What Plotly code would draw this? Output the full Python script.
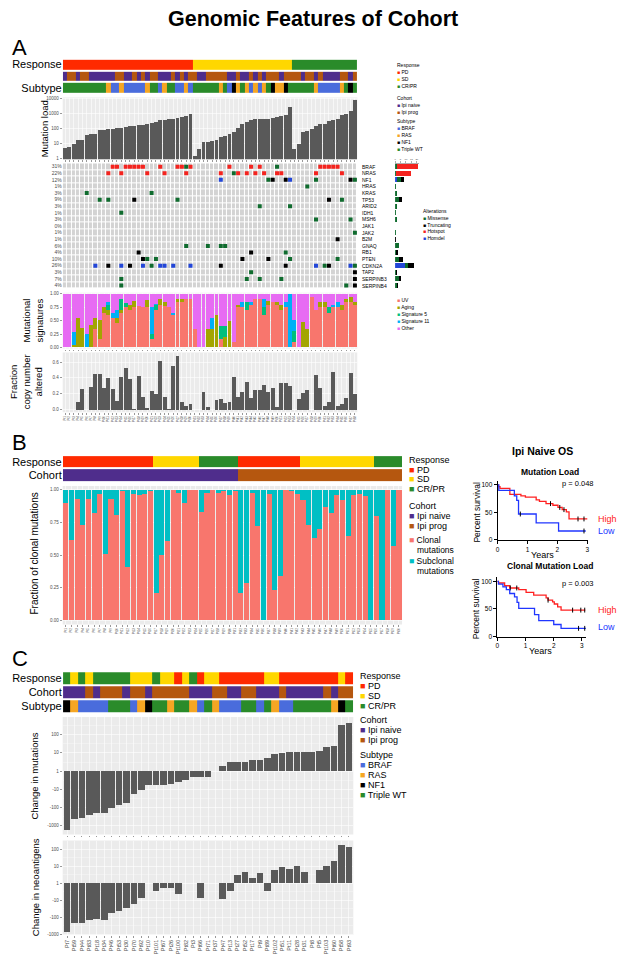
import plotly.graph_objects as go
import math

W, H = 624, 967
FONT = "Liberation Sans, Arial, Helvetica, sans-serif"
GREY_BG = "#EBEBEB"
BAR_GREY = "#595959"
TICK_GREY = "#4D4D4D"

# ---------------------------------------------------------------- colours
CAT_COLORS = {
    "PD": "#FF2A00", "SD": "#FFD700", "CR/PR": "#2A8B2A",
    "Ipi naive": "#4F2D8C", "Ipi prog": "#B5570F",
    "BRAF": "#4A6CDC", "RAS": "#F5A623", "NF1": "#000000", "Triple WT": "#2A8B2A",
}
ALT_COLORS = {"Missense": "#0F6B2E", "Truncating": "#000000", "Hotspot": "#F4231E", "Homdel": "#2246D8"}
SIG_COLORS = {"UV": "#F8766D", "Aging": "#A3A500", "Signature 5": "#00BF7D",
              "Signature 11": "#00B0F6", "Other": "#E76BF3"}

# ================================================================ DATA
# ---------- Panel A (68 tumours)
resp_A_runs = [("PD", 30), ("SD", 23), ("CR/PR", 15)]
cohort_A_runs = [("Ipi naive", 1), ("Ipi prog", 2), ("Ipi naive", 1), ("Ipi prog", 2), ("Ipi naive", 6),
                 ("Ipi prog", 2), ("Ipi naive", 2), ("Ipi prog", 1), ("Ipi naive", 1), ("Ipi prog", 1),
                 ("Ipi naive", 1), ("Ipi prog", 2), ("Ipi naive", 3), ("Ipi prog", 1), ("Ipi naive", 1),
                 ("Ipi prog", 1), ("Ipi naive", 1), ("Ipi prog", 2), ("Ipi naive", 2), ("Ipi prog", 5),
                 ("Ipi naive", 2), ("Ipi prog", 1), ("Ipi naive", 2), ("Ipi prog", 1), ("Ipi naive", 1),
                 ("Ipi prog", 1), ("Ipi naive", 1), ("Ipi prog", 3), ("Ipi naive", 1), ("Ipi prog", 4),
                 ("Ipi naive", 1), ("Ipi prog", 2), ("Ipi naive", 1), ("Ipi prog", 1), ("Ipi naive", 4),
                 ("Ipi prog", 2), ("Ipi naive", 1), ("Ipi prog", 1)]
subtype_A_runs = [("Triple WT", 10), ("RAS", 1), ("BRAF", 2), ("RAS", 1), ("BRAF", 5), ("RAS", 1),
                  ("Triple WT", 2), ("BRAF", 1), ("RAS", 1), ("Triple WT", 2), ("BRAF", 2), ("RAS", 1),
                  ("BRAF", 1), ("Triple WT", 6), ("RAS", 1), ("Triple WT", 1), ("BRAF", 1), ("NF1", 1),
                  ("RAS", 1), ("Triple WT", 1), ("RAS", 1), ("BRAF", 1), ("RAS", 1), ("BRAF", 1),
                  ("RAS", 1), ("Triple WT", 1), ("NF1", 1), ("RAS", 2), ("NF1", 1), ("Triple WT", 6),
                  ("RAS", 1), ("BRAF", 5), ("RAS", 1), ("Triple WT", 1), ("NF1", 1), ("Triple WT", 1)]
mut_load_A = [5, 6, 9, 17, 18, 38, 40, 45, 80, 85, 90, 95, 100, 115, 135, 150, 155, 160, 170, 200,
              220, 280, 350, 380, 400, 430, 520, 620, 720, 950,
              1.5, 4.5, 12, 13, 15, 16, 25, 30, 40, 60, 110, 200, 280, 350, 400, 420, 430, 450, 500,
              600, 650, 800, 2600,
              4.5, 9, 60, 70, 90, 150, 190, 200, 330, 360, 400, 800, 950, 1500, 8000]
genes_A = ["BRAF", "NRAS", "NF1", "HRAS", "KRAS", "TP53", "ARID2", "IDH1", "MSH6", "JAK1", "JAK2",
           "B2M", "GNAQ", "RB1", "PTEN", "CDKN2A", "TAP2", "SERPINB3", "SERPINB4"]
gene_pct_A = ["31%", "22%", "12%", "1%", "3%", "9%", "3%", "1%", "3%", "0%", "1%", "1%", "6%", "4%",
              "10%", "26%", "3%", "7%", "4%"]
hotspot_A = {"BRAF": [11, 12, 14, 15, 16, 17, 18, 22, 26, 27, 29, 38, 43, 45, 59, 60, 61, 62, 63],
             "NRAS": [10, 13, 19, 23, 28, 36, 40, 42, 44, 46, 49, 50, 58, 64]}
missense_A = {"BRAF": [28, 49], "NRAS": [39], "NF1": [47, 58, 67], "HRAS": [56], "KRAS": [5, 20],
              "TP53": [8, 10, 26, 64], "ARID2": [45, 52], "IDH1": [13], "MSH6": [58, 66], "JAK2": [67],
              "GNAQ": [28, 33, 36, 37], "RB1": [51], "PTEN": [19, 21, 52, 63], "CDKN2A": [20, 60, 67],
              "TAP2": [43], "SERPINB3": [13, 42, 45, 50], "SERPINB4": [13, 65]}
truncating_A = {"NF1": [48, 51, 66], "TP53": [16, 61], "B2M": [63], "RB1": [17, 43],
                "PTEN": [18, 41, 47], "CDKN2A": [10, 15, 36, 51, 61], "TAP2": [67],
                "SERPINB3": [67], "SERPINB4": [67]}
homdel_A = {"NF1": [36, 52], "CDKN2A": [7, 13, 18, 22, 23, 25, 29, 58, 66]}
sig_uv_A = [0, 0, 0, 0, 0, 0, 0, .35, .15, .65, .6, .55, .45, .65, .75, .7, .75, .77, .75, .75,
            .15, .7, .8, .78, .75, .6, .85, .85, .9, .9, .35, 0, 0, 0, 0, 0, .15, 0, 0, .1,
            .75, .75, .7, .8, .9, .9, .6, .8, .85, .8, .7, .75, 0, .1, 0, 0, 0, .95, .7, .75,
            .75, .65, .75, .75, .7, .85, .85, .8]
sig_aging_A = [0, 0, .05, .55, .36, 0, .42, .2, .37, .1, .1, 0, .1, .05, 0, .1, .12, 0, 0, .13,
               0, 0, .1, .07, 0, 0, .05, .05, 0, 0, 0, 0, 0, .35, .35, .6, 0, .2, .5, 0,
               .05, 0, 0, 0, 0, 0, 0, .07, 0, .05, .1, 0, 0, 0, 0, .48, .35, 0, 0, .1,
               .1, 0, 0, 0, .1, .05, .1, .05]
sig_5_A = [0, 0, 0, 0, 0, 0, 0, 0, 0, 0, .1, 0, 0, .2, .08, 0, 0, 0, 0, 0,
           .1, .1, 0, 0, 0, 0, 0, 0, 0, 0, 0, 0, 0, 0, 0, 0, .25, .2, 0, 0,
           0, 0, .15, 0, 0, 0, .15, 0, 0, 0, 0, 0, 0, .2, 0, 0, 0, 0, 0, 0,
           0, .1, 0, 0, 0, 0, 0, 0]
sig_11_A = [0, 0, .24, 0, 0, .25, 0, 0, 0, 0, .05, .1, .15, 0, 0, 0, 0, 0, 0, 0,
            .5, .02, 0, 0, 0, .05, 0, 0, 0, 0, 0, 0, 0, 0, .2, 0, 0, 0, 0, 0,
            0, .1, 0, .05, 0, 0, .15, 0, 0, 0, 0, .1, 1.0, .22, 0, 0, 0, 0, 0, 0,
            0, 0, .05, .1, 0, 0, 0, 0]
cna_A = [None, None, None, .10, .26, None, .29, .45, .45, .27, .40, .26, .11, .41, .53, .38, .01, .42,
         .16, .02, .24, .20, .61, .16, .003, .55, .68, .09, .05, .07, None, None, .22, .03, None, .12,
         .13, .08, .10, .41, .16, .22, .35, .15, .25, .25, .31, .22, .27, .03, .33, .34, .30, None,
         .13, .21, .25, None, .43, .27, .04, .09, .48, .04, .07, .14, .46, .19]
samples_A = ["Pt%d" % (i + 1) for i in range(68)]

# ---------- Panel B (60 tumours)
resp_B_runs = [("PD", 16), ("SD", 8), ("CR/PR", 7), ("PD", 11), ("SD", 13), ("CR/PR", 5)]
cohort_B_runs = [("Ipi naive", 31), ("Ipi prog", 29)]
clonal_B = [.90, .62, .93, .73, .93, .82, .97, .51, .93, .81, .99, .41, .97, .96, .97, .99, .21, .50,
            .61, 1.0, .98, .90, 1.0, 1.0, .83, .98, 1.0, .98, .99, .96, .99,
            .21, .29, .98, .72, 0.0, .97, .23, .34, 1.0, .99, .97, .92, .73, .63, .70, .87, .82, .96,
            .92, .65, .96, .97, .95, 0.0, .80, 0.0, 1.0, .57, 1.0]
samples_B = ["Pt%d" % (i + 1) for i in range(60)]

# ---------- KM curves (Ipi naive OS)
km_ml_high_t = [0, 0.03, 0.08, 0.41, 0.78, 0.93, 1.29, 1.40, 1.62, 1.85, 2.02, 2.16, 2.30, 2.39, 3.0]
km_ml_high_s = [100, 97, 94, 83, 80, 78, 73, 70, 66, 63, 59, 55, 51, 38, 38]
km_ml_high_cens = [1.77, 2.08, 2.22, 2.69, 2.89]
km_ml_low_t = [0, 0.04, 0.56, 0.64, 0.70, 1.29, 2.04, 2.95]
km_ml_low_s = [100, 90, 80, 72, 47, 31, 16, 16]
km_ml_low_cens = [0.76, 2.89]
km_cl_high_t = [0, 0.04, 0.26, 0.44, 0.76, 1.02, 1.29, 1.73, 1.80, 1.96, 2.02, 2.14, 2.26, 3.12]
km_cl_high_s = [100, 97, 92, 88, 85, 80, 75, 70, 66, 63, 59, 54, 48, 48]
km_cl_high_cens = [0.46, 0.69, 1.80, 2.67, 2.96, 3.10]
km_cl_low_t = [0, 0.04, 0.20, 0.32, 0.44, 0.61, 0.70, 0.76, 1.32, 1.47, 2.00, 2.26, 3.16]
km_cl_low_s = [100, 95, 90, 85, 78, 72, 62, 51, 40, 29, 22, 15, 15]
km_cl_low_cens = [2.88, 3.10]

# ---------- Panel C (39 paired tumours)
resp_C_runs = [("CR/PR", 1), ("SD", 1), ("CR/PR", 1), ("SD", 1), ("CR/PR", 5), ("SD", 3), ("CR/PR", 1),
               ("SD", 2), ("PD", 1), ("SD", 1), ("CR/PR", 1), ("PD", 1), ("SD", 2), ("PD", 6), ("SD", 2),
               ("PD", 8), ("SD", 1), ("PD", 1)]
cohort_C_runs = [("Ipi naive", 3), ("Ipi prog", 1), ("Ipi naive", 1), ("Ipi prog", 3), ("Ipi naive", 1),
                 ("Ipi prog", 2), ("Ipi naive", 1), ("Ipi prog", 5), ("Ipi naive", 3), ("Ipi prog", 2),
                 ("Ipi naive", 2), ("Ipi prog", 2), ("Ipi naive", 3), ("Ipi prog", 1), ("Ipi naive", 5),
                 ("Ipi prog", 1), ("Ipi naive", 1), ("Ipi prog", 2)]
subtype_C_runs = [("NF1", 1), ("RAS", 1), ("BRAF", 4), ("Triple WT", 3), ("BRAF", 1), ("RAS", 1), ("NF1", 1),
                  ("Triple WT", 2), ("RAS", 1), ("Triple WT", 2), ("RAS", 1), ("BRAF", 1), ("Triple WT", 1),
                  ("RAS", 1), ("BRAF", 3), ("Triple WT", 2), ("BRAF", 1), ("Triple WT", 1), ("RAS", 1),
                  ("BRAF", 2), ("Triple WT", 5), ("RAS", 1), ("NF1", 1), ("Triple WT", 1)]
patients_C = ["Pt7", "Pt59", "Pt44", "Pt83", "Pt18", "Pt34", "Pt46", "Pt53", "Pt30", "Pt70", "Pt92",
              "Pt10", "Pt101", "Pt67", "Pt26", "Pt100", "Pt82", "Pt3", "Pt66", "Pt71", "Pt37", "Pt47",
              "Pt13", "Pt27", "Pt52", "Pt17", "Pt9", "Pt89", "Pt102", "Pt51", "Pt11", "Pt28", "Pt31",
              "Pt8", "Pt5", "Pt103", "Pt60", "Pt58", "Pt93"]
mut_change_C = [-1650, -430, -380, -250, -210, -200, -100, -75, -58, -19, -11, -6, -6, -6, -5, -4, -3,
                -2, -2, -2, 0, 2, 3, 3, 3, 4, 4, 5, 9, 10, 11, 11, 11, 11, 12, 22, 25, 350, 435]
neo_change_C = [-730, -215, -236, -150, -131, -138, -56, -43, -28, -16, -7, 0, -3, -2, -2, -4, 0, 0,
                -7, 0, 0, -9, -3, 3, 5, 2, 4, -3, 6, 9, 7, 10, 5, 0, 6, 10, 20, 196, 150]
symlog_ticks = [-1000, -100, -10, 1, 10, 100]


# ================================================================ helpers
def expand(runs):
    out = []
    for v, n in runs:
        out += [v] * n
    return out


def slog(v):
    if v == 0:
        return 0
    return math.copysign(math.log10(abs(v)), v)


fig = go.Figure()
_ax = [0]


def new_axes(x0, x1, y0, y1, xa=None, ya=None):
    _ax[0] += 1
    s = "" if _ax[0] == 1 else str(_ax[0])
    xa = dict(xa or {})
    ya = dict(ya or {})
    xa.update(domain=[x0 / W, x1 / W], anchor="y" + s)
    ya.update(domain=[1 - y1 / H, 1 - y0 / H], anchor="x" + s)
    fig.update_layout(**{"xaxis" + s: xa, "yaxis" + s: ya})
    return "x" + s, "y" + s


def grey_panel(xr, yr):
    fig.add_shape(type="rect", xref=xr + " domain", yref=yr + " domain", x0=0, x1=1, y0=0, y1=1,
                  fillcolor=GREY_BG, line_width=0, layer="below")


def text(x, y, s, size, color="black", xanchor="center", yanchor="middle", angle=0, bold=False,
         align="center"):
    if bold:
        s = "<b>" + s + "</b>"
    fig.add_annotation(x=x / W, y=1 - y / H, xref="paper", yref="paper", text=s, showarrow=False,
                       textangle=angle, xanchor=xanchor, yanchor=yanchor, align=align,
                       font=dict(family=FONT, size=size, color=color))


def legend_block(x, y0, title, items, size, step, colors, title_gap=None):
    if title:
        text(x, y0, title, size, xanchor="left")
    y = y0 + (title_gap if title_gap else step)
    for it in items:
        text(x, y, '<span style="color:%s">\u25A0</span> %s' % (colors[it], it), size, xanchor="left")
        y += step


cat_keys = list(CAT_COLORS)


def cat_colorscale():
    n = len(cat_keys)
    cs = []
    for i, k in enumerate(cat_keys):
        cs.append([i / n, CAT_COLORS[k]])
        cs.append([(i + 1) / n, CAT_COLORS[k]])
    return cs


def gg_axis(**kw):
    d = dict(showgrid=True, gridcolor="white", gridwidth=0.6, zeroline=False, showline=False,
             ticks="outside", ticklen=2, tickcolor="#333333", tickwidth=0.5,
             tickfont=dict(family=FONT, size=4.5, color=TICK_GREY))
    d.update(kw)
    return d


def track(x0, x1, y0, y1, rows, names, n, label_size):
    xr, yr = new_axes(x0, x1, y0, y1,
                      dict(range=[-0.55, n - 0.45], visible=False, fixedrange=True),
                      dict(type="category", ticks="", showgrid=False, zeroline=False,
                           tickfont=dict(family=FONT, size=label_size, color="black")))
    z = [[cat_keys.index(v) for v in row] for row in rows]
    fig.add_trace(go.Heatmap(z=z, x=list(range(n)), y=names, colorscale=cat_colorscale(),
                             zmin=-0.5, zmax=len(cat_keys) - 0.5, showscale=False, xgap=0, ygap=2,
                             hoverinfo="skip", xaxis=xr, yaxis=yr))


# ================================================================ TITLE + letters
text(312, 18, "Genomic Features of Cohort", 21.5, bold=True)
text(8, 47, "A", 22, xanchor="left")
text(8, 443, "B", 22, xanchor="left")
text(8, 660, "C", 22, xanchor="left")

# ================================================================ PANEL A
nA = len(mut_load_A)
XA0, XA1 = 61, 357
resp_A = expand(resp_A_runs)
cohort_A = expand(cohort_A_runs)
subtype_A = expand(subtype_A_runs)
track(XA0, XA1, 58, 93, [subtype_A, cohort_A, resp_A], ["Subtype", "Cohort", "Response"], nA, 11)

# mutation load
xr, yr = new_axes(XA0, XA1, 97, 159,
                  gg_axis(range=[-0.55, nA - 0.45], dtick=1, tick0=0, showticklabels=False, ticklen=1.5),
                  gg_axis(type="log", range=[-0.07, 4.07], tickvals=[1, 10, 100, 1000, 10000],
                          ticktext=["1", "10", "100", "1000", "10000"], minor=dict(showgrid=False)))
grey_panel(xr, yr)
fig.add_trace(go.Bar(x=list(range(nA)), y=mut_load_A, marker_color=BAR_GREY, marker_line_width=0,
                     showlegend=False, hoverinfo="skip", xaxis=xr, yaxis=yr))
text(43, 128, "Mutation load", 9.5, angle=-90)

# oncoprint
nG = len(genes_A)
xr, yr = new_axes(XA0, XA1, 163, 289,
                  dict(range=[-0.55, nA - 0.45], visible=False),
                  dict(range=[nG - 0.5, -0.5], tickvals=list(range(nG)), ticktext=gene_pct_A, ticks="",
                       showgrid=False, zeroline=False,
                       tickfont=dict(family=FONT, size=5, color=TICK_GREY)))
fig.add_trace(go.Heatmap(z=[[0] * nA for _ in genes_A], x=list(range(nA)), y=list(range(nG)),
                         colorscale=[[0, "#D3D3D3"], [1, "#D3D3D3"]], showscale=False, xgap=1, ygap=1,
                         hoverinfo="skip", xaxis=xr, yaxis=yr))
for name, hits in [("Homdel", homdel_A), ("Missense", missense_A), ("Truncating", truncating_A),
                   ("Hotspot", hotspot_A)]:
    xs, ys = [], []
    for g, cols in hits.items():
        for c in cols:
            xs.append(c)
            ys.append(genes_A.index(g))
    fig.add_trace(go.Scatter(x=xs, y=ys, mode="markers",
                             marker=dict(symbol="square", size=4, color=ALT_COLORS[name], line_width=0),
                             showlegend=False, hoverinfo="skip", xaxis=xr, yaxis=yr))
for i, g in enumerate(genes_A):
    fig.add_annotation(x=1.008, y=i, xref=xr + " domain", yref=yr, text=g, showarrow=False,
                       xanchor="left", font=dict(family=FONT, size=5, color="black"))

# alteration counts bar chart
xr2, yr2 = new_axes(395, 419, 163, 289,
                    dict(range=[0, 22], side="top", tickvals=[0, 5, 10, 15, 20], ticks="outside",
                         ticklen=1.5, tickwidth=0.4, tickcolor="#333", showgrid=False, zeroline=False,
                         showline=True, linewidth=0.4, linecolor="#333",
                         tickfont=dict(family=FONT, size=2.5, color=TICK_GREY)),
                    dict(range=[nG - 0.5, -0.5], visible=False))
for name, hits in [("Homdel", homdel_A), ("Missense", missense_A), ("Truncating", truncating_A),
                   ("Hotspot", hotspot_A)]:
    fig.add_trace(go.Bar(y=list(range(nG)), x=[len(hits.get(g, [])) for g in genes_A], orientation="h",
                         width=0.75, marker_color=ALT_COLORS[name], marker_line_width=0,
                         showlegend=False, hoverinfo="skip", xaxis=xr2, yaxis=yr2))

# signatures
xr, yr = new_axes(XA0, XA1, 293, 349,
                  gg_axis(range=[-0.55, nA - 0.45], dtick=1, tick0=0, showticklabels=False, ticklen=1.5),
                  gg_axis(range=[-0.02, 1.02], tickvals=[0, .25, .5, .75, 1],
                          ticktext=["0.00", "0.25", "0.50", "0.75", "1.00"]))
grey_panel(xr, yr)
sig_other_A = [max(0.0, 1 - a - b - c - d) for a, b, c, d in zip(sig_uv_A, sig_aging_A, sig_5_A, sig_11_A)]
for name, vals in [("UV", sig_uv_A), ("Aging", sig_aging_A), ("Signature 5", sig_5_A),
                   ("Signature 11", sig_11_A), ("Other", sig_other_A)]:
    fig.add_trace(go.Bar(x=list(range(nA)), y=vals, marker_color=SIG_COLORS[name], marker_line_width=0,
                         showlegend=False, hoverinfo="skip", xaxis=xr, yaxis=yr))
text(31, 321, "Mutational<br>signatures", 9.5, angle=-90)

# CNA
xr, yr = new_axes(XA0, XA1, 353, 413,
                  gg_axis(range=[-0.55, nA - 0.45], tickvals=list(range(nA)), ticktext=samples_A,
                          tickangle=-90, ticklen=1.5, tickfont=dict(family=FONT, size=3, color=TICK_GREY)),
                  gg_axis(range=[-0.035, 0.72], tickvals=[0, .2, .4, .6],
                          ticktext=["0.0", "0.2", "0.4", "0.6"]))
grey_panel(xr, yr)
fig.add_trace(go.Bar(x=list(range(nA)), y=cna_A, marker_color=BAR_GREY, marker_line_width=0,
                     showlegend=False, hoverinfo="skip", xaxis=xr, yaxis=yr))
text(25, 382, "Fraction<br>copy number<br>altered", 9.5, angle=-90)

# legends panel A
legend_block(395, 64, "Response", ["PD", "SD", "CR/PR"], 5, 7, CAT_COLORS)
legend_block(395, 97, "Cohort", ["Ipi naive", "Ipi prog"], 5, 7, CAT_COLORS)
legend_block(395, 121, "Subtype", ["BRAF", "RAS", "NF1", "Triple WT"], 5, 7, CAT_COLORS)
legend_block(421, 211, "Alterations", ["Missense", "Truncating", "Hotspot", "Homdel"], 5, 6.8, ALT_COLORS)
legend_block(395, 293, "", ["UV", "Aging", "Signature 5", "Signature 11", "Other"], 5, 7, SIG_COLORS)

# ================================================================ PANEL B
nB = len(clonal_B)
XB0, XB1 = 61, 402
track(XB0, XB1, 456, 483, [expand(cohort_B_runs), expand(resp_B_runs)], ["Cohort", "Response"], nB, 11)
xr, yr = new_axes(XB0, XB1, 487, 626,
                  gg_axis(range=[-0.55, nB - 0.45], tickvals=list(range(nB)), ticktext=samples_B,
                          tickangle=-90, ticklen=1.5, tickfont=dict(family=FONT, size=3, color=TICK_GREY)),
                  gg_axis(range=[-0.03, 1.03], tickvals=[0, .25, .5, .75, 1],
                          ticktext=["0.00", "0.25", "0.50", "0.75", "1.00"]))
grey_panel(xr, yr)
subclonal_B = [round(1 - v, 3) for v in clonal_B]
fig.add_trace(go.Bar(x=list(range(nB)), y=clonal_B, marker_color="#F8766D", marker_line_width=0,
                     showlegend=False, hoverinfo="skip", xaxis=xr, yaxis=yr))
fig.add_trace(go.Bar(x=list(range(nB)), y=subclonal_B, marker_color="#00BFC4", marker_line_width=0,
                     showlegend=False, hoverinfo="skip", xaxis=xr, yaxis=yr))
text(33, 555, "Fraction of clonal mutations", 10, angle=-90)
legend_block(407, 461, "Response", ["PD", "SD", "CR/PR"], 9, 9.3, CAT_COLORS, title_gap=10)
legend_block(407, 507, "Cohort", ["Ipi naive", "Ipi prog"], 9, 10, CAT_COLORS)
text(407, 541, '<span style="color:#F8766D">\u25A0</span> Clonal', 8.5, xanchor="left")
text(414.5, 551.5, "mutations", 8.5, xanchor="left")
text(407, 562, '<span style="color:#00BFC4">\u25A0</span> Subclonal', 8.5, xanchor="left")
text(414.5, 572.5, "mutations", 8.5, xanchor="left")


# ---------------- KM plots
def km_axes(x0, x1, y0, y1, xmax):
    ax = dict(showgrid=False, zeroline=False, showline=True, linecolor="black", linewidth=1,
              ticks="outside", ticklen=3, tickcolor="black", tickwidth=1,
              tickfont=dict(family=FONT, size=6.5, color="black"))
    return new_axes(x0, x1, y0, y1, dict(ax, range=[0, xmax], tickvals=[0, 1, 2, 3]),
                    dict(ax, range=[0, 108], tickvals=[0, 50, 100]))


def step_at(ts, ss, t):
    v = ss[0]
    for ti, si in zip(ts, ss):
        if ti <= t:
            v = si
    return v


def km_curve(xr, yr, ts, ss, cens, color):
    fig.add_trace(go.Scatter(x=ts, y=ss, mode="lines", line=dict(color=color, width=1.3, shape="hv"),
                             showlegend=False, hoverinfo="skip", xaxis=xr, yaxis=yr))
    fig.add_trace(go.Scatter(x=cens, y=[step_at(ts, ss, c) for c in cens], mode="markers",
                             marker=dict(symbol="line-ns-open", size=3.5, color="black",
                                         line=dict(width=1, color="black")),
                             showlegend=False, hoverinfo="skip", xaxis=xr, yaxis=yr))


RED_KM, BLUE_KM = "#FF2020", "#2036FF"
text(543, 452, "Ipi Naive OS", 10.5, bold=True)
text(551, 473, "Mutation Load", 8.5, bold=True)
xr, yr = km_axes(498, 589, 481.6, 541, 3.03)
km_curve(xr, yr, km_ml_high_t, km_ml_high_s, km_ml_high_cens, RED_KM)
km_curve(xr, yr, km_ml_low_t, km_ml_low_s, km_ml_low_cens, BLUE_KM)
text(477, 513, "Percent survival", 8.5, angle=-90)
text(543, 556, "Years", 9)
text(561, 485, "p = 0.048", 7.5, xanchor="left")
text(597, 520, "High", 9, color=RED_KM, xanchor="left")
text(597, 532, "Low", 9, color=BLUE_KM, xanchor="left")

text(551, 567, "Clonal Mutation Load", 8.5, bold=True)
xr, yr = km_axes(497.7, 586.7, 578.3, 638.3, 3.14)
km_curve(xr, yr, km_cl_high_t, km_cl_high_s, km_cl_high_cens, RED_KM)
km_curve(xr, yr, km_cl_low_t, km_cl_low_s, km_cl_low_cens, BLUE_KM)
text(477, 610, "Percent survival", 8.5, angle=-90)
text(541, 653, "Years", 9)
text(561, 585, "p = 0.003", 7.5, xanchor="left")
text(597, 612, "High", 9, color=RED_KM, xanchor="left")
text(597, 629, "Low", 9, color=BLUE_KM, xanchor="left")

# ================================================================ PANEL C
nC = len(patients_C)
XC0, XC1 = 61, 353
track(XC0, XC1, 673, 715, [expand(subtype_C_runs), expand(cohort_C_runs), expand(resp_C_runs)],
      ["Subtype", "Cohort", "Response"], nC, 11)
sym_tv = [slog(v) for v in symlog_ticks]
sym_tt = [str(v) for v in symlog_ticks]

xr, yr = new_axes(XC0, XC1, 719, 837,
                  gg_axis(range=[-0.6, nC - 0.4], dtick=1, tick0=0, showticklabels=False, ticklen=1.5),
                  gg_axis(range=[-3.48, 2.97], tickvals=sym_tv, ticktext=sym_tt,
                          minor=dict(showgrid=True, gridcolor="white", gridwidth=0.3,
                                     tickvals=[-2.5, -1.5, -0.5, 0.5, 1.5, 2.5], ticks="")))
grey_panel(xr, yr)
fig.add_trace(go.Bar(x=list(range(nC)), y=[slog(v) for v in mut_change_C], marker_color=BAR_GREY,
                     marker_line_width=0, showlegend=False, hoverinfo="skip", xaxis=xr, yaxis=yr))
text(33, 778, "Change in mutations", 9.5, angle=-90)

xr, yr = new_axes(XC0, XC1, 843, 938,
                  gg_axis(range=[-0.6, nC - 0.4], tickvals=list(range(nC)), ticktext=patients_C,
                          tickangle=-90, ticklen=1.5, tickfont=dict(family=FONT, size=5.5, color=TICK_GREY)),
                  gg_axis(range=[-3.06, 2.53], tickvals=sym_tv, ticktext=sym_tt,
                          minor=dict(showgrid=True, gridcolor="white", gridwidth=0.3,
                                     tickvals=[-2.5, -1.5, -0.5, 0.5, 1.5], ticks="")))
grey_panel(xr, yr)
fig.add_trace(go.Bar(x=list(range(nC)), y=[slog(v) for v in neo_change_C], marker_color=BAR_GREY,
                     marker_line_width=0, showlegend=False, hoverinfo="skip", xaxis=xr, yaxis=yr))
text(33, 890, "Change in neoantigens", 9.5, angle=-90)

legend_block(358, 678, "Response", ["PD", "SD", "CR/PR"], 9, 10, CAT_COLORS)
legend_block(358, 722, "Cohort", ["Ipi naive", "Ipi prog"], 9, 10, CAT_COLORS)
legend_block(358, 757, "Subtype", ["BRAF", "RAS", "NF1", "Triple WT"], 9, 10, CAT_COLORS)

fig.update_layout(width=W, height=H, autosize=False, margin=dict(l=0, r=0, t=0, b=0),
                  paper_bgcolor="white", plot_bgcolor="white", barmode="stack", bargap=0.1,
                  showlegend=False, font=dict(family=FONT))
fig.write_html("out.html", config={"displayModeBar": False, "staticPlot": True},
               post_script="document.body.style.margin='0px';")
